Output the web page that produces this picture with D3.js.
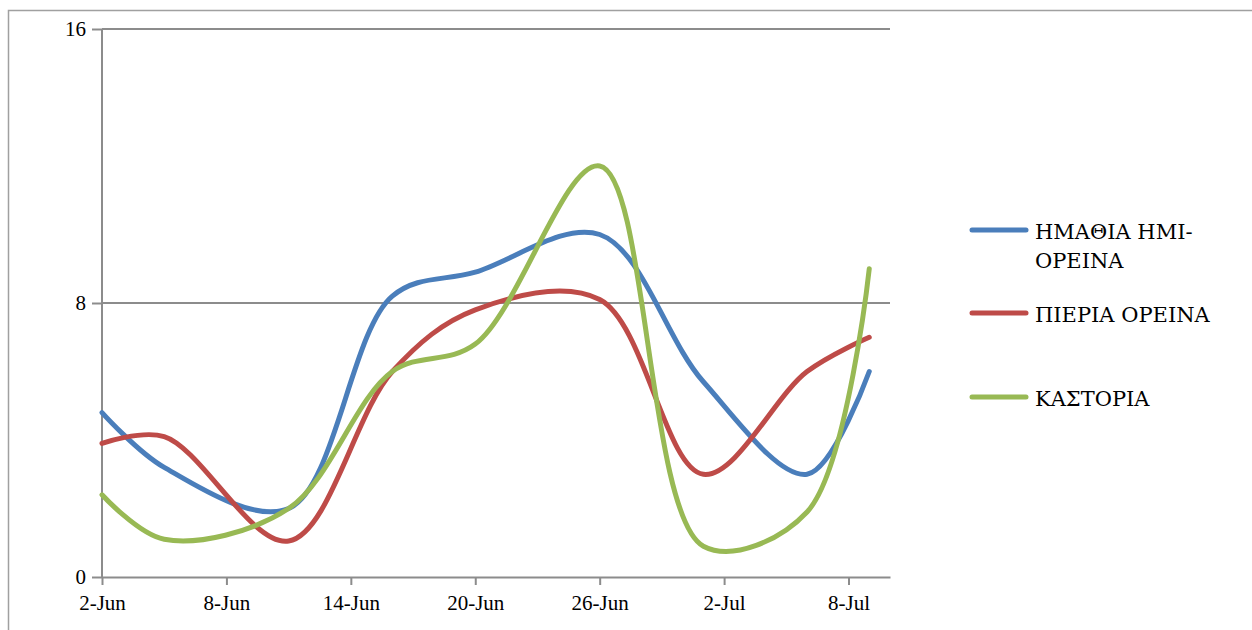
<!DOCTYPE html>
<html>
<head>
<meta charset="utf-8">
<script src="https://cdn.jsdelivr.net/npm/d3@7"></script>
<style>
  body { margin: 0; background: #fff; }
</style>
</head>
<body>
<div id="chart-wrapper"></div>
<script>
// dates of the readings, 2-Jun .. 9-Jul
var dates = ['2014-06-02', '2014-06-05', '2014-06-11', '2014-06-16', '2014-06-20',
             '2014-06-26', '2014-07-01', '2014-07-06', '2014-07-09'];
var series_names = ['ΗΜΑΘΙΑ ΗΜΙ-ΟΡΕΙΝΑ', 'ΠΙΕΡΙΑ ΟΡΕΙΝΑ', 'ΚΑΣΤΟΡΙΑ'];
var imathia = [4.8, 3.2, 2.0, 8.2, 8.9, 10.0, 5.7, 3.0, 6.0];
var pieria  = [3.9, 4.1, 1.05, 6.0, 7.8, 8.1, 3.0, 6.0, 7.0];
var kastoria = [2.4, 1.1, 2.0, 6.0, 6.8, 12.0, 0.9, 1.9, 9.0];
var y_ticks = [0, 8, 16];
var x_ticks = ['2014-06-02', '2014-06-08', '2014-06-14', '2014-06-20',
               '2014-06-26', '2014-07-02', '2014-07-08'];
var colors = ['#4A7EBB', '#BE4B48', '#98B954'];

var total_width = 1252, total_height = 630;
var margin = {top: 29, left: 102, right: 362, bottom: 53};
var draw_width = total_width - margin.left - margin.right;
var draw_height = total_height - margin.top - margin.bottom;
var font = '"Liberation Serif", "Times New Roman", serif';
var legend_font = '"DejaVu Serif", "Liberation Serif", serif';

var parse = d3.timeParse('%Y-%m-%d');
var fmt = d3.timeFormat('%-d-%b');

var svg = d3.select('#chart-wrapper').append('svg')
    .attr('width', total_width)
    .attr('height', total_height);

// outer chart frame (runs off the right and bottom edge)
svg.append('rect')
    .attr('x', 8.5).attr('y', 10.5)
    .attr('width', 1260).attr('height', 640)
    .attr('fill', 'none')
    .attr('stroke', '#a0a0a0')
    .attr('stroke-width', 1.5);

var draw_area = svg.append('g')
    .attr('transform', 'translate(' + margin.left + ',' + margin.top + ')');

var scale_x = d3.scaleTime()
    .domain([parse('2014-06-02'), parse('2014-07-10')])
    .range([0, draw_width]);
var scale_y = d3.scaleLinear()
    .domain([0, 16])
    .range([draw_height, 0]);

// gridlines
draw_area.selectAll('.grid')
    .data(y_ticks.filter(function(d) { return d > 0; }))
    .enter().append('line')
    .attr('x1', 0).attr('x2', draw_width)
    .attr('y1', function(d) { return scale_y(d); })
    .attr('y2', function(d) { return scale_y(d); })
    .attr('stroke', '#8c8c8c')
    .attr('stroke-width', 2);

var axis_y = d3.axisLeft(scale_y)
    .tickValues(y_ticks)
    .tickSize(10)
    .tickPadding(6)
    .tickSizeOuter(0);
var gy = draw_area.append('g').call(axis_y);

var axis_x = d3.axisBottom(scale_x)
    .tickValues(x_ticks.map(parse))
    .tickFormat(fmt)
    .tickSize(8)
    .tickPadding(10)
    .tickSizeOuter(0);
var gx = draw_area.append('g')
    .attr('transform', 'translate(0,' + draw_height + ')')
    .call(axis_x);

[gx, gy].forEach(function(g) {
    g.attr('font-family', font).attr('font-size', 21);
    g.selectAll('path, line').attr('stroke', '#8c8c8c').attr('stroke-width', 2);
    g.selectAll('text').attr('fill', '#000');
});
gy.select('.domain').attr('d', 'M0,' + draw_height + 'V0');

// lines
var all_series = [imathia, pieria, kastoria];
var line = d3.line()
    .x(function(d) { return scale_x(d.date); })
    .y(function(d) { return scale_y(d.value); })
    .curve(d3.curveCatmullRom.alpha(0.5));

all_series.forEach(function(values, i) {
    var pts = values.map(function(v, j) { return {date: parse(dates[j]), value: v}; });
    draw_area.append('path')
        .datum(pts)
        .attr('d', line)
        .attr('fill', 'none')
        .attr('stroke', colors[i])
        .attr('stroke-width', 5)
        .attr('stroke-linecap', 'round');
});

// legend
var legend_rows = [
    {lines: ['ΗΜΑΘΙΑ ΗΜΙ-', 'ΟΡΕΙΝΑ'], y: 230},
    {lines: ['ΠΙΕΡΙΑ ΟΡΕΙΝΑ'], y: 313},
    {lines: ['ΚΑΣΤΟΡΙΑ'], y: 397}
];
var legend = svg.append('g')
    .attr('font-family', legend_font)
    .attr('font-size', 21);
legend_rows.forEach(function(r, i) {
    legend.append('line')
        .attr('x1', 972).attr('x2', 1026)
        .attr('y1', r.y).attr('y2', r.y)
        .attr('stroke', colors[i])
        .attr('stroke-width', 5)
        .attr('stroke-linecap', 'round');
    var t = legend.append('text')
        .attr('x', 1035)
        .attr('y', r.y + 9);
    r.lines.forEach(function(s, k) {
        t.append('tspan').attr('x', 1035).attr('dy', k === 0 ? 0 : 29).text(s);
    });
});
</script>
</body>
</html>
